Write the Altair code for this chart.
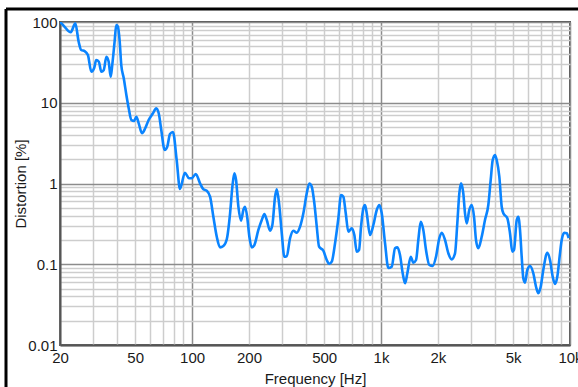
import altair as alt
import pandas as pd

# Frequency (Hz) and distortion (%)
FREQ_HZ = [
    20, 21.0, 22.8, 24.1, 25.1, 25.9, 27.0, 28.1, 29.3, 30.3, 31.1, 32.1, 33.1, 34.1, 35.2, 36.2,
    37.1, 37.8, 38.9, 39.7, 40.5, 41.4, 42.2, 43.5, 44.9, 46.2, 47.7, 49.3, 50.7, 52.2, 54.3, 56.5,
    58.9, 62.1, 64.6, 66.6, 68.7, 71.6, 73.9, 76.4, 79.2, 82.9, 86.3, 91.7, 96.3, 99.5, 104.6, 110.2,
    114.8, 119.6, 124.5, 129.6, 135.1, 140.6, 146.4, 152.6, 158.9, 163.4, 167.4, 170.9, 175.8, 181.6,
    186.8, 190.7, 196.1, 201.0, 207.0, 213.6, 224.3, 233.8, 241.3, 248.5, 258.7, 266.0, 274.9, 280.6,
    288.6, 298.3, 307.9, 317.0, 330.0, 343.6, 358.1, 372.8, 388.1, 404.5, 417.5, 429.9, 443.7, 456.9,
    469.9, 495.1, 516.1, 530.8, 548.5, 571.0, 594.5, 614.4, 631.8, 650.5, 671.4, 699.8, 722.3, 743.7,
    764.9, 783.7, 805.9, 822.8, 840.0, 874.5, 910.5, 949.0, 979.5, 1008, 1050, 1093, 1139, 1186,
    1220, 1260, 1302, 1340, 1378, 1436, 1482, 1532, 1575, 1622, 1674, 1730, 1801, 1877, 1954, 2034,
    2095, 2181, 2271, 2366, 2463, 2533, 2596, 2650, 2725, 2782, 2840, 2932, 3019, 3105, 3181, 3271,
    3409, 3549, 3696, 3805, 3899, 4010, 4094, 4226, 4351, 4437, 4660, 4814, 4951, 5055, 5224, 5327,
    5438, 5551, 5661, 5779, 5944, 6143, 6395, 6609, 6797, 6998, 7222, 7583, 7837, 8099, 8328, 8565,
    8852, 9037, 9328, 9605, 9842,
]
DISTORTION_PCT = [
    100, 89, 74.6, 96.4, 57.0, 45.0, 43.7, 39.0, 24.2, 26.7, 33.8, 32.2, 24.2, 25.5, 37.2, 32.2,
    21.0, 29.3, 57.0, 91.8, 87.5, 57.0, 29.3, 20.1, 12.5, 8.54, 6.12, 5.94, 6.72, 5.56, 4.19, 4.83,
    6.12, 7.40, 8.54, 7.40, 4.60, 2.60, 2.85, 4.10, 4.34, 1.95, 0.855, 1.36, 1.16, 1.16, 1.31, 1.006,
    0.848, 0.814, 0.686, 0.388, 0.219, 0.162, 0.168, 0.204, 0.428, 0.913, 1.337, 1.105, 0.516, 0.346,
    0.470, 0.516, 0.371, 0.219, 0.162, 0.173, 0.266, 0.353, 0.419, 0.353, 0.260, 0.306, 0.686, 0.848,
    0.569, 0.242, 0.124, 0.1265, 0.210, 0.260, 0.246, 0.292, 0.428, 0.756, 1.0, 0.913, 0.569, 0.292,
    0.165, 0.147, 0.113, 0.1007, 0.1075, 0.182, 0.371, 0.720, 0.686, 0.428, 0.253, 0.279, 0.230, 0.143,
    0.150, 0.292, 0.493, 0.542, 0.428, 0.230, 0.306, 0.470, 0.542, 0.431, 0.182, 0.0899, 0.0933, 0.1576,
    0.162, 0.130, 0.0773, 0.0581, 0.0773, 0.124, 0.1045, 0.113, 0.1997, 0.336, 0.266, 0.150, 0.0979, 0.0951, 0.124, 0.210,
    0.246, 0.1997, 0.1367, 0.115, 0.1367, 0.321, 0.756, 1.006, 0.756, 0.428, 0.321, 0.470, 0.542, 0.388, 0.1997, 0.1576,
    0.219, 0.353, 0.542, 1.105, 1.95, 2.254, 1.95, 1.214, 0.516, 0.428, 0.371, 0.242, 0.143, 0.150, 0.353, 0.388,
    0.266, 0.124, 0.0670, 0.0591, 0.0849, 0.0951, 0.0773, 0.0527, 0.0437, 0.0527, 0.0849, 0.139, 0.113, 0.0701, 0.0569, 0.0701,
    0.1367, 0.1997, 0.246, 0.242, 0.210,
]

X_LABELED = [20, 50, 100, 200, 500, 1000, 2000, 5000, 10000]
Y_LABELED = [0.01, 0.1, 1, 10, 100]
X_DECADES = [10, 100, 1000]
Y_DECADES = [0.01, 0.1, 1, 10]

x_ticks = sorted({round(k * d, 6) for d in X_DECADES for k in range(1, 10)
                  if 20 <= k * d <= 10000} | {10000})
y_ticks = sorted({round(k * d, 6) for d in Y_DECADES for k in range(1, 10)} | {100})

df = pd.DataFrame({"freq": FREQ_HZ, "dist": DISTORTION_PCT})

major_test = "abs(log(datum.value)/LN10 - round(log(datum.value)/LN10)) < 0.001"
grid_color = {"condition": {"test": major_test, "value": "#8c8c8c"}, "value": "#cdcdcd"}

font = "Liberation Sans"

x_axis = alt.Axis(
    values=x_ticks,
    labelExpr="indexof(" + str(X_LABELED) + ", datum.value) >= 0 ? "
              "(datum.value >= 1000 ? (datum.value/1000) + 'k' : datum.value + '') : ''",
    grid=True, gridColor=grid_color, gridWidth=1.5,
    ticks=False, tickSize=0, labelPadding=5, labelFlush=False, labelOverlap=False,
    labelFont=font, labelFontSize=15, labelColor="#1a1a1a",
    domainColor="#555555", domainWidth=2,
    title="Frequency [Hz]", titleFont=font, titleFontSize=15, titleFontWeight="normal",
    titleColor="#1a1a1a", titleBaseline="alphabetic", titleY=38,
)
y_axis = alt.Axis(
    values=y_ticks,
    labelExpr="indexof(" + str(Y_LABELED) + ", datum.value) >= 0 ? toString(datum.value) : ''",
    grid=True, gridColor=grid_color, gridWidth=1.5,
    ticks=False, tickSize=0, labelPadding=3, labelFlush=False, labelOverlap=False,
    labelFont=font, labelFontSize=15, labelColor="#1a1a1a",
    domainColor="#555555", domainWidth=2,
    title="Distortion [%]", titleFont=font, titleFontSize=15, titleFontWeight="normal",
    titleColor="#1a1a1a", titleBaseline="middle", titleX=-40, titleY=161.5,
)

line = alt.Chart(df).mark_line(color="#0a84ff", strokeWidth=2.6, clip=True, interpolate="monotone").encode(
    x=alt.X("freq:Q", scale=alt.Scale(type="log", domain=[20, 10000], nice=False), axis=x_axis),
    y=alt.Y("dist:Q", scale=alt.Scale(type="log", domain=[0.01, 100], nice=False), axis=y_axis),
)

frame_df = pd.DataFrame({"a": [0]})
border_left = alt.Chart(frame_df).mark_rule(color="black", strokeWidth=3).encode(
    x=alt.value(-54), y=alt.value(-13), y2=alt.value(400)
)
border_top = alt.Chart(frame_df).mark_rule(color="black", strokeWidth=3).encode(
    x=alt.value(-54), x2=alt.value(600), y=alt.value(-13)
)

chart = alt.layer(line, border_left, border_top).properties(
    width=510, height=323,
    autosize=alt.AutoSizeParams(type="none"),
    padding={"left": 60, "top": 22, "right": 8, "bottom": 42},
    background="white",
).configure_view(stroke="#555555", strokeWidth=2)

chart.save("out.html", embed_options={"renderer": "svg", "actions": False})
